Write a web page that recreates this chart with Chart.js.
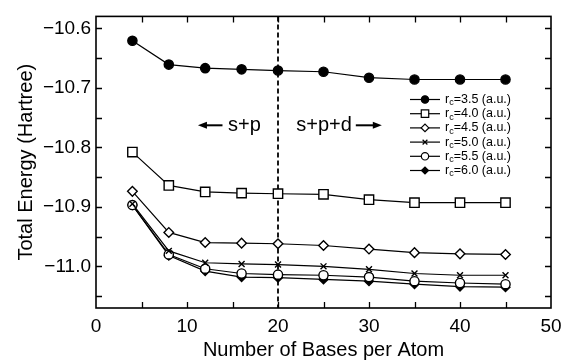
<!DOCTYPE html>
<html><head><meta charset="utf-8">
<script src="https://cdn.jsdelivr.net/npm/chart.js@4.4.0/dist/chart.umd.min.js"></script>
<style>html,body{margin:0;padding:0;background:#fff}canvas{display:block}</style>
</head><body>
<canvas id="c" width="574" height="360"></canvas>
<script>
// ---- data ----
const basesPerAtom = [4, 8, 12, 16, 20, 25, 30, 35, 40, 45];
const rc35 = [-10.621, -10.661, -10.667, -10.669, -10.671, -10.673, -10.683, -10.686, -10.686, -10.686];
const rc40 = [-10.808, -10.864, -10.875, -10.877, -10.878, -10.879, -10.888, -10.893, -10.893, -10.893];
const rc45 = [-10.874, -10.943, -10.960, -10.961, -10.962, -10.965, -10.971, -10.977, -10.979, -10.980];
const rc50 = [-10.895, -10.974, -10.994, -10.996, -10.997, -11.000, -11.005, -11.012, -11.015, -11.015];
const rc55 = [-10.897, -10.980, -11.004, -11.012, -11.014, -11.015, -11.018, -11.025, -11.028, -11.030];
const rc60 = [-10.897, -10.982, -11.008, -11.018, -11.019, -11.022, -11.025, -11.030, -11.034, -11.035];
const seriesLabels = ['3.5', '4.0', '4.5', '5.0', '5.5', '6.0'];
const xTickLabels = [0, 10, 20, 30, 40, 50];
const yTickLabels = [-11.0, -10.9, -10.8, -10.7, -10.6];
const boundaryX = 20;

// ---- styles ----
const FONT = '"Liberation Sans", Arial, Helvetica, sans-serif';
const series = [rc35, rc40, rc45, rc50, rc55, rc60];
const markers = [
  {pointStyle: 'circle', radius: 4.6, fill: '#000'},
  {pointStyle: 'rect', radius: 6.6, fill: '#fff'},
  {pointStyle: 'rectRot', radius: 4.8, fill: '#fff'},
  {pointStyle: 'crossRot', radius: 4.2, fill: '#fff'},
  {pointStyle: 'circle', radius: 4.6, fill: '#fff'},
  {pointStyle: 'rectRot', radius: 4.4, fill: '#000'}
];

const datasets = series.map((vals, i) => ({
  label: 'rc=' + seriesLabels[i] + ' (a.u.)',
  data: basesPerAtom.map((x, j) => ({x: x, y: vals[j]})),
  showLine: true,
  borderColor: '#000',
  borderWidth: 1.2,
  pointStyle: markers[i].pointStyle,
  pointRadius: markers[i].radius,
  pointHoverRadius: markers[i].radius,
  pointBackgroundColor: markers[i].fill,
  pointBorderColor: '#000',
  pointBorderWidth: 1.4,
  fill: false,
  tension: 0
}));

const framePlugin = {
  id: 'frame',
  beforeDatasetsDraw(chart) {
    const {ctx, chartArea: a, scales: {x, y}} = chart;
    ctx.save();
    ctx.strokeStyle = '#000';
    ctx.lineWidth = 1.8;
    ctx.setLineDash([5, 3]);
    const bx = x.getPixelForValue(boundaryX);
    ctx.beginPath(); ctx.moveTo(bx, a.top); ctx.lineTo(bx, a.bottom); ctx.stroke();
    ctx.setLineDash([]);
    ctx.restore();
  },
  afterDraw(chart) {
    const {ctx, chartArea: a, scales: {x, y}} = chart;
    ctx.save();
    ctx.strokeStyle = '#000';
    ctx.lineWidth = 1.6;
    ctx.strokeRect(a.left, a.top, a.right - a.left, a.bottom - a.top);
    const tl = 6;
    ctx.lineWidth = 1.3;
    ctx.beginPath();
    for (let v = x.min + 5; v < x.max; v += 5) {
      const px = Math.round(x.getPixelForValue(v)) + 0.5;
      ctx.moveTo(px, a.bottom); ctx.lineTo(px, a.bottom - tl);
      ctx.moveTo(px, a.top); ctx.lineTo(px, a.top + tl);
    }
    for (let k = Math.ceil(y.min / 0.05); k * 0.05 <= y.max; k++) {
      const py = Math.round(y.getPixelForValue(k * 0.05)) + 0.5;
      ctx.moveTo(a.left, py); ctx.lineTo(a.left + tl, py);
      ctx.moveTo(a.right, py); ctx.lineTo(a.right - tl, py);
    }
    ctx.stroke();

    // annotations
    ctx.fillStyle = '#000';
    ctx.font = '20px ' + FONT;
    ctx.textBaseline = 'middle';
    const ay = y.getPixelForValue(-10.763);
    const t1x = x.getPixelForValue(14.5);
    ctx.textAlign = 'left';
    ctx.fillText('s+p', t1x, ay);
    drawArrow(ctx, x.getPixelForValue(13.9), ay, x.getPixelForValue(11.2), ay);
    const t2x = x.getPixelForValue(22.0);
    ctx.fillText('s+p+d', t2x, ay);
    const w2 = ctx.measureText('s+p+d').width;
    drawArrow(ctx, t2x + w2 + 4, ay, t2x + w2 + 30, ay);

    // legend
    const lx0 = 410, lx1 = 440, tx = 445, ly0 = 99.5, dy = 14.2;
    chart.data.datasets.forEach((ds, i) => {
      const ly = ly0 + i * dy;
      ctx.strokeStyle = '#000';
      ctx.lineWidth = 1.2;
      ctx.beginPath(); ctx.moveTo(lx0, ly); ctx.lineTo(lx1, ly); ctx.stroke();
      ctx.fillStyle = ds.pointBackgroundColor;
      Chart.helpers.drawPoint(ctx, {pointStyle: ds.pointStyle, radius: ds.pointRadius * 0.8, rotation: 0, borderWidth: 1.2}, (lx0 + lx1) / 2, ly);
      ctx.fillStyle = '#000';
      ctx.textAlign = 'left';
      ctx.textBaseline = 'middle';
      ctx.font = '12.5px ' + FONT;
      ctx.fillText('r', tx, ly);
      const rw = ctx.measureText('r').width;
      ctx.font = '9px ' + FONT;
      ctx.fillText('c', tx + rw, ly + 3.5);
      const cw = ctx.measureText('c').width;
      ctx.font = '12.5px ' + FONT;
      ctx.fillText('=' + seriesLabels[i] + ' (a.u.)', tx + rw + cw, ly);
    });
    ctx.restore();
  }
};

function drawArrow(ctx, x0, y0, x1, y1) {
  const dir = Math.sign(x1 - x0);
  const hl = 9, hw = 3.5;
  ctx.save();
  ctx.strokeStyle = '#000';
  ctx.fillStyle = '#000';
  ctx.lineWidth = 2;
  ctx.beginPath(); ctx.moveTo(x0, y0); ctx.lineTo(x1 - dir * hl * 0.6, y1); ctx.stroke();
  ctx.beginPath();
  ctx.moveTo(x1, y1);
  ctx.lineTo(x1 - dir * hl, y1 - hw);
  ctx.lineTo(x1 - dir * hl, y1 + hw);
  ctx.closePath(); ctx.fill();
  ctx.restore();
}

new Chart(document.getElementById('c'), {
  type: 'scatter',
  data: {datasets},
  plugins: [framePlugin],
  options: {
    responsive: false,
    animation: false,
    devicePixelRatio: 1,
    layout: {padding: {left: 0, right: 23, top: 11, bottom: 0}},
    plugins: {legend: {display: false}, tooltip: {enabled: false}},
    scales: {
      x: {
        type: 'linear', min: 0, max: 50,
        afterBuildTicks: s => { s.ticks = xTickLabels.map(v => ({value: v})); },
        afterFit: s => { s.height = 52; },
        grid: {display: false, drawTicks: false, tickLength: 0},
        border: {display: false},
        ticks: {color: '#000', font: {family: FONT, size: 19}, padding: 7, maxRotation: 0,
                callback: v => String(v)},
        title: {display: true, text: 'Number of Bases per Atom', color: '#000',
                font: {family: FONT, size: 20, lineHeight: 1.0}, padding: {top: 0, bottom: 0}}
      },
      y: {
        type: 'linear', min: -11.07, max: -10.58,
        afterBuildTicks: s => { s.ticks = yTickLabels.map(v => ({value: v})); },
        afterFit: s => { s.width = 96; },
        grid: {display: false, drawTicks: false, tickLength: 0},
        border: {display: false},
        ticks: {color: '#000', font: {family: FONT, size: 19}, padding: 5,
                callback: v => '\u2212' + Math.abs(v).toFixed(1)},
        title: {display: true, text: 'Total Energy (Hartree)', color: '#000',
                font: {family: FONT, size: 20, lineHeight: 1.2}, padding: {top: 14, bottom: 0}}
      }
    }
  }
});
</script>
</body></html>
